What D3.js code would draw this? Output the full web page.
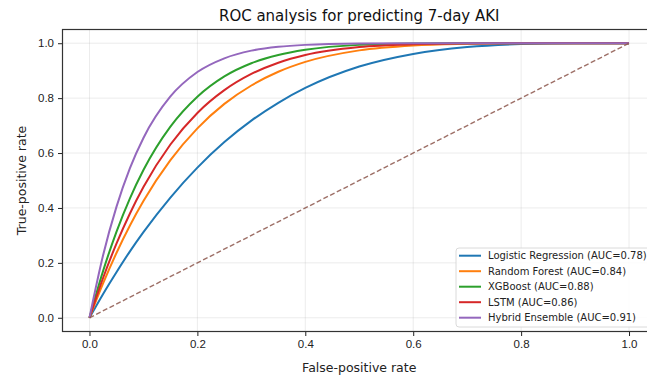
<!DOCTYPE html>
<meta charset="utf-8">
<head>
    <style>
        body { margin: 0; background: #fff; }
        svg { font-family: "DejaVu Sans", sans-serif; display: block; }
        .grid line { stroke: #b0b0b0; stroke-opacity: 0.3; stroke-width: 0.8; }
        .axis path { display: none; }
        .axis line { stroke: #222; }
        .axis text { fill: #222; font-size: 11.5px; }
    </style>
    <script src="https://d3js.org/d3.v7.min.js"></script>
</head>
<body>
    <div id="chart"></div>
    <script>
        // false-positive rates the curves were read at
        var fpr = [0, 0.025, 0.05, 0.075, 0.1, 0.15, 0.2, 0.25, 0.3, 0.35, 0.4, 0.5, 0.6, 0.7, 0.8, 0.9, 1.0];

        // true-positive rates, one array per model
        var tprLogistic = [0, 0.086, 0.166, 0.242, 0.312, 0.438, 0.547, 0.640, 0.718, 0.783, 0.837, 0.915, 0.961, 0.986, 0.997, 1.0, 1.0];
        var tprForest   = [0, 0.124, 0.236, 0.336, 0.425, 0.574, 0.690, 0.779, 0.846, 0.896, 0.932, 0.974, 0.992, 0.998, 1.0, 1.0, 1.0];
        var tprXgb      = [0, 0.169, 0.313, 0.435, 0.538, 0.696, 0.805, 0.879, 0.927, 0.957, 0.976, 0.994, 0.999, 1.0, 1.0, 1.0, 1.0];
        var tprLstm     = [0, 0.144, 0.270, 0.380, 0.476, 0.631, 0.746, 0.829, 0.888, 0.929, 0.957, 0.986, 0.996, 0.999, 1.0, 1.0, 1.0];
        var tprHybrid   = [0, 0.226, 0.404, 0.545, 0.655, 0.806, 0.895, 0.945, 0.973, 0.987, 0.994, 0.999, 1.0, 1.0, 1.0, 1.0, 1.0];

        var modelNames = ["Logistic Regression (AUC=0.78)", "Random Forest (AUC=0.84)", "XGBoost (AUC=0.88)",
            "LSTM (AUC=0.86)", "Hybrid Ensemble (AUC=0.91)"];
        var modelColors = ["#1f77b4", "#ff7f0e", "#2ca02c", "#d62728", "#9467bd"];
        var modelTpr = [tprLogistic, tprForest, tprXgb, tprLstm, tprHybrid];

        var chanceLine = [[0, 0], [1, 1]];
        var ticks = [0, 0.2, 0.4, 0.6, 0.8, 1.0];

        var width = 647, height = 379;
        var margin = { top: 29.5, right: -9, bottom: 47.5, left: 62.5 };

        var svg = d3.select("#chart").append("svg")
            .attr("width", width)
            .attr("height", height);

        var x = d3.scaleLinear().domain([-0.05, 1.05]).range([margin.left, width - margin.right]);
        var y = d3.scaleLinear().domain([-0.05, 1.05]).range([height - margin.bottom, margin.top]);

        // grid
        var grid = svg.append("g").attr("class", "grid");
        grid.selectAll(".gx").data(ticks).enter().append("line")
            .attr("x1", d => x(d)).attr("x2", d => x(d))
            .attr("y1", y.range()[0]).attr("y2", y.range()[1]);
        grid.selectAll(".gy").data(ticks).enter().append("line")
            .attr("y1", d => y(d)).attr("y2", d => y(d))
            .attr("x1", x.range()[0]).attr("x2", x.range()[1]);

        var line = d3.line()
            .x(d => x(d[0]))
            .y(d => y(d[1]))
            .curve(d3.curveMonotoneX);

        modelTpr.forEach(function (tpr, i) {
            svg.append("path")
                .datum(fpr.map((f, j) => [f, tpr[j]]))
                .attr("d", line)
                .attr("fill", "none")
                .attr("stroke", modelColors[i])
                .attr("stroke-width", 2);
        });

        svg.append("path")
            .datum(chanceLine)
            .attr("d", d3.line().x(d => x(d[0])).y(d => y(d[1])))
            .attr("fill", "none")
            .attr("stroke", "#8c564b")
            .attr("stroke-opacity", 0.85)
            .attr("stroke-width", 1.4)
            .attr("stroke-dasharray", "5,2.5");

        // axes
        svg.append("g").attr("class", "axis")
            .attr("transform", "translate(0," + y.range()[0] + ")")
            .call(d3.axisBottom(x).tickValues(ticks).tickFormat(d3.format(".1f")).tickSizeInner(4.5).tickPadding(4));
        svg.append("g").attr("class", "axis")
            .attr("transform", "translate(" + x.range()[0] + ",0)")
            .call(d3.axisLeft(y).tickValues(ticks).tickFormat(d3.format(".1f")).tickSizeInner(4.5).tickPadding(4));

        // frame
        svg.append("rect")
            .attr("x", x.range()[0]).attr("y", y.range()[1])
            .attr("width", x.range()[1] - x.range()[0])
            .attr("height", y.range()[0] - y.range()[1])
            .attr("fill", "none")
            .attr("stroke", "#333")
            .attr("stroke-width", 1.2);

        svg.append("text")
            .attr("x", (x.range()[0] + x.range()[1]) / 2).attr("y", 20.5)
            .attr("text-anchor", "middle")
            .attr("font-size", 15)
            .attr("fill", "#111")
            .text("ROC analysis for predicting 7-day AKI");

        svg.append("text")
            .attr("x", (x.range()[0] + x.range()[1]) / 2).attr("y", 371.5)
            .attr("text-anchor", "middle")
            .attr("font-size", 12.5)
            .attr("fill", "#222")
            .text("False-positive rate");

        svg.append("text")
            .attr("transform", "translate(25.5," + y(0.5) + ") rotate(-90)")
            .attr("text-anchor", "middle")
            .attr("font-size", 12.5)
            .attr("fill", "#222")
            .text("True-positive rate");

        // legend
        var legend = svg.append("g").attr("transform", "translate(456,248)");
        legend.append("rect")
            .attr("width", 205).attr("height", 79)
            .attr("rx", 3)
            .attr("fill", "#fff").attr("fill-opacity", 0.85)
            .attr("stroke", "#d0d0d0").attr("stroke-width", 0.8);
        modelNames.forEach(function (name, i) {
            var g = legend.append("g").attr("transform", "translate(0," + (7.7 + i * 15.5) + ")");
            g.append("line")
                .attr("x1", 3).attr("x2", 25)
                .attr("stroke", modelColors[i]).attr("stroke-width", 2);
            g.append("text")
                .attr("x", 32).attr("y", 3.6)
                .attr("font-size", 10)
                .attr("fill", "#222")
                .text(name);
        });
    </script>
</body>
